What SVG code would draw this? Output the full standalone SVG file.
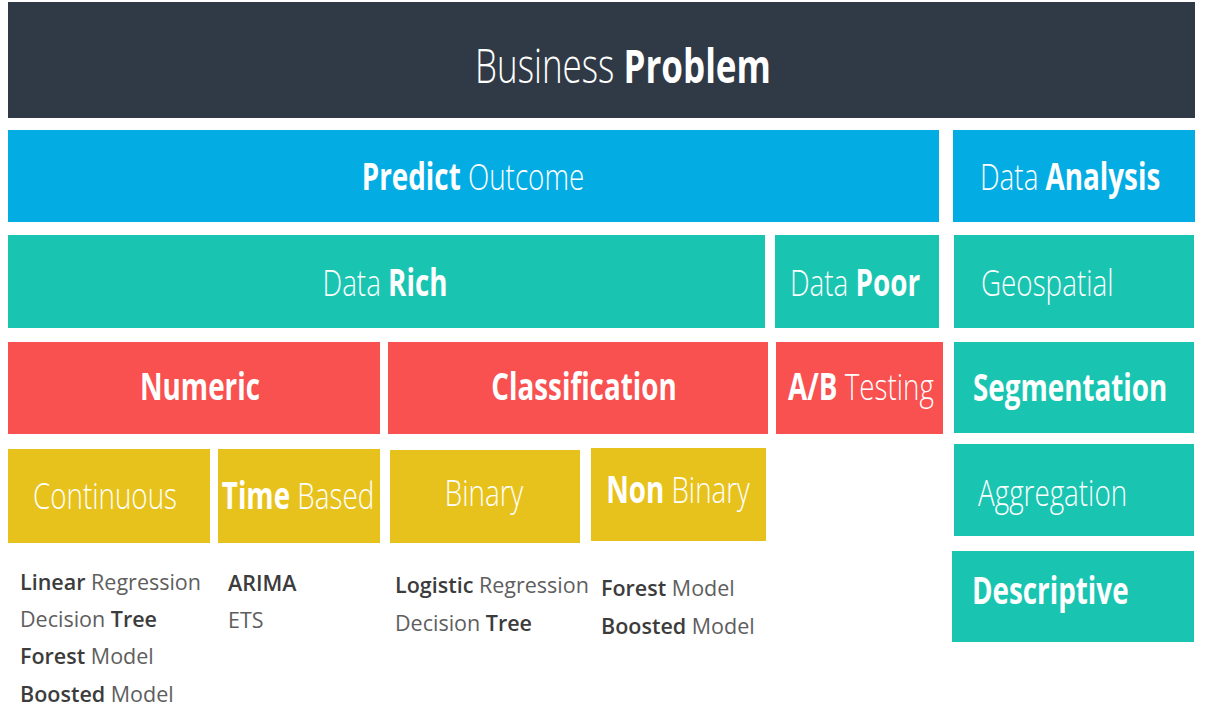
<svg xmlns="http://www.w3.org/2000/svg" width="1213" height="716" viewBox="0 0 1213 716">
<style>
.dark{fill:#303a46}
.blue{fill:#03ade4}
.teal{fill:#19c5b1}
.red{fill:#f95050}
.yel{fill:#e8c21c}
.h{font-family:"Open Sans","Liberation Sans",sans-serif;font-size:27.8px;fill:#ffffff}
.t{font-size:35px}
.l{font-weight:300}
.b{font-weight:700}
.m{text-anchor:middle}
.li{font-family:"Open Sans","Liberation Sans",sans-serif;font-size:21.5px}
.lb{font-weight:600;fill:#3c3c3c}
.lr{font-weight:400;fill:#5e5e5e}
</style>
<rect width="1213" height="716" fill="#ffffff"/>
<g id="business-problem"><rect class="dark" x="8" y="2" width="1187" height="116"/><text class="h t m" transform="translate(623,83) scale(1,1.34)"><tspan class="l">Business</tspan> <tspan class="b">Problem</tspan></text></g>
<g id="predict-outcome"><rect class="blue" x="8" y="130" width="931" height="92"/><text class="h m" transform="translate(473,190) scale(1,1.34)"><tspan class="b">Predict</tspan> <tspan class="l">Outcome</tspan></text></g>
<g id="data-analysis"><rect class="blue" x="953" y="130" width="242" height="92"/><text class="h" transform="translate(980,190) scale(1,1.34)"><tspan class="l">Data</tspan> <tspan class="b">Analysis</tspan></text></g>
<g id="data-rich"><rect class="teal" x="8" y="235" width="757" height="93"/><text class="h m" transform="translate(385,296) scale(1,1.34)"><tspan class="l">Data</tspan> <tspan class="b">Rich</tspan></text></g>
<g id="data-poor"><rect class="teal" x="775" y="235" width="164" height="93"/><text class="h m" transform="translate(855,296) scale(1,1.34)"><tspan class="l">Data</tspan> <tspan class="b">Poor</tspan></text></g>
<g id="geospatial"><rect class="teal" x="954" y="235" width="240" height="93"/><text class="h l" transform="translate(981,296) scale(1,1.34)">Geospatial</text></g>
<g id="numeric"><rect class="red" x="8" y="342" width="372" height="92"/><text class="h b m" transform="translate(200,400) scale(1,1.34)">Numeric</text></g>
<g id="classification"><rect class="red" x="388" y="342" width="380" height="92"/><text class="h b m" transform="translate(584,400) scale(1,1.34)">Classification</text></g>
<g id="ab-testing"><rect class="red" x="776" y="342" width="167" height="92"/><text class="h m" transform="translate(861,400) scale(1,1.34)"><tspan class="b">A/B</tspan> <tspan class="l">Testing</tspan></text></g>
<g id="segmentation"><rect class="teal" x="954" y="342" width="240" height="91"/><text class="h b" transform="translate(973,401) scale(1,1.34)">Segmentation</text></g>
<g id="aggregation"><rect class="teal" x="954" y="444" width="240" height="92"/><text class="h l" transform="translate(978,506) scale(1,1.34)">Aggregation</text></g>
<g id="descriptive"><rect class="teal" x="952" y="551" width="242" height="91"/><text class="h b" transform="translate(972,604) scale(1,1.34)">Descriptive</text></g>
<g id="continuous"><rect class="yel" x="8" y="449" width="202" height="94"/><text class="h l m" transform="translate(105,509) scale(1,1.34)">Continuous</text>
<text class="li" x="20"><tspan class="lb" y="590">Linear</tspan> <tspan class="lr">Regression</tspan></text>
<text class="li" x="20"><tspan class="lr" y="627">Decision</tspan> <tspan class="lb">Tree</tspan></text>
<text class="li" x="20"><tspan class="lb" y="664">Forest</tspan> <tspan class="lr">Model</tspan></text>
<text class="li" x="20"><tspan class="lb" y="702">Boosted</tspan> <tspan class="lr">Model</tspan></text></g>
<g id="time-based"><rect class="yel" x="218" y="449" width="162" height="94"/><text class="h m" transform="translate(298,509) scale(1,1.34)"><tspan class="b">Time</tspan> <tspan class="l">Based</tspan></text>
<text class="li lb" x="228" y="591">ARIMA</text>
<text class="li lr" x="228" y="628">ETS</text></g>
<g id="binary"><rect class="yel" x="390" y="450" width="190" height="93"/><text class="h l m" transform="translate(484,506) scale(1,1.34)">Binary</text>
<text class="li" x="395"><tspan class="lb" y="593">Logistic</tspan> <tspan class="lr">Regression</tspan></text>
<text class="li" x="395"><tspan class="lr" y="631">Decision</tspan> <tspan class="lb">Tree</tspan></text></g>
<g id="non-binary"><rect class="yel" x="591" y="448" width="175" height="93"/><text class="h m" transform="translate(678,503) scale(1,1.34)"><tspan class="b">Non</tspan> <tspan class="l">Binary</tspan></text>
<text class="li" x="601"><tspan class="lb" y="596">Forest</tspan> <tspan class="lr">Model</tspan></text>
<text class="li" x="601"><tspan class="lb" y="634">Boosted</tspan> <tspan class="lr">Model</tspan></text></g>
</svg>
